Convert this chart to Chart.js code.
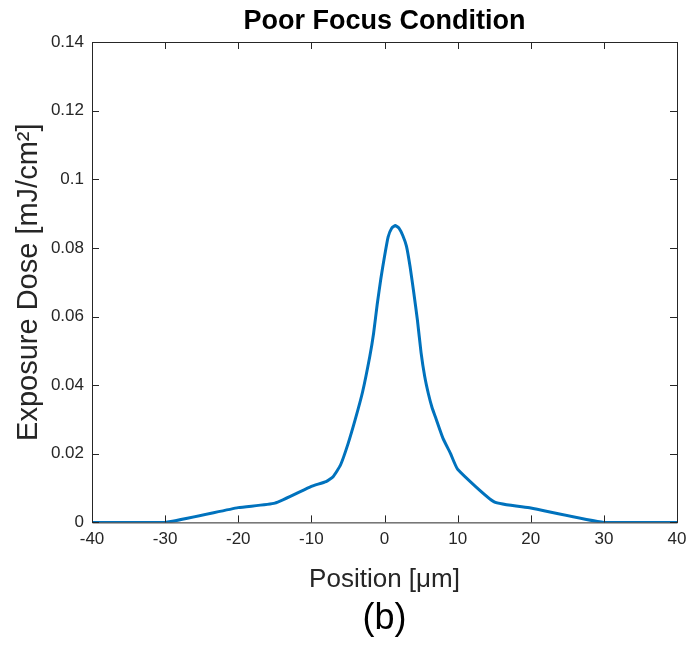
<!DOCTYPE html>
<html>
<head>
<meta charset="utf-8">
<script src="https://cdn.jsdelivr.net/npm/chart.js@4"></script>
<style>
  html, body { margin: 0; padding: 0; background: #fff; }
  #wrap { width: 689px; height: 649px; }
</style>
</head>
<body>
<div id="wrap"><canvas id="doseChart" width="689" height="649"></canvas></div>
<script>
// position in um and exposure dose in mJ/cm^2
const positions = [-40, -30, -20, -15, -10, -8, -7, -6, -5, -4, -3, -2, -1.5, -1, -0.5, 0, 0.5, 1, 1.5, 2, 2.5, 3, 3.5, 4, 4.5, 5, 5.5, 6, 6.5, 7, 8, 9, 10, 15, 20, 30, 40]
const doses = [0, 0, 0.0043, 0.0056, 0.0105, 0.0119, 0.0134, 0.0168, 0.0228, 0.030, 0.038, 0.0485, 0.055, 0.0635, 0.071, 0.0775, 0.0832, 0.0858, 0.0865, 0.0857, 0.0836, 0.0805, 0.0745, 0.067, 0.059, 0.0495, 0.0425, 0.0375, 0.0335, 0.0305, 0.0245, 0.0202, 0.0155, 0.006, 0.0042, 0, 0]
const xTicks = [-40, -30, -20, -10, 0, 10, 20, 30, 40]
const yTicks = [0, 0.02, 0.04, 0.06, 0.08, 0.1, 0.12, 0.14]

const axisColor = '#262626'
const fontFamily = 'Arial, "Liberation Sans", Helvetica, sans-serif'

// MATLAB-style box with inward ticks on all four sides
const boxPlugin = {
  id: 'boxTicks',
  afterDatasetsDraw(chart) {
    const { ctx, chartArea: a, scales } = chart
    const len = 7
    ctx.save()
    ctx.strokeStyle = axisColor
    ctx.lineWidth = 1
    ctx.beginPath()
    ctx.rect(a.left + 0.5, a.top + 0.5, a.right - a.left, a.bottom - a.top)
    xTicks.forEach((v) => {
      const px = Math.round(scales.x.getPixelForValue(v)) + 0.5
      ctx.moveTo(px, a.bottom); ctx.lineTo(px, a.bottom - len)
      ctx.moveTo(px, a.top); ctx.lineTo(px, a.top + len)
    })
    yTicks.forEach((v) => {
      const py = Math.round(scales.y.getPixelForValue(v)) + 0.5
      ctx.moveTo(a.left, py); ctx.lineTo(a.left + len, py)
      ctx.moveTo(a.right, py); ctx.lineTo(a.right - len, py)
    })
    ctx.stroke()
    ctx.restore()
  },
}

const canvas = document.getElementById('doseChart')
new Chart(canvas.getContext('2d'), {
  type: 'line',
  data: {
    datasets: [
      {
        label: 'Exposure Dose',
        data: positions.map((x, i) => ({ x, y: doses[i] })),
        borderColor: '#0072BD',
        borderWidth: 3,
        pointRadius: 0,
        fill: false,
        tension: 0.15,
      },
    ],
  },
  options: {
    responsive: false,
    animation: false,
    layout: { padding: { top: 0, right: 0, left: 0, bottom: 0 } },
    scales: {
      x: {
        type: 'linear',
        min: -40,
        max: 40,
        afterBuildTicks: (s) => { s.ticks = xTicks.map((v) => ({ value: v })) },
        afterFit: (s) => {
          s.height = 75.4
          s.paddingRight = 12
        },
        grid: { display: false, drawTicks: false },
        border: { display: false },
        ticks: { color: axisColor, font: { family: fontFamily, size: 17 }, padding: 7, maxRotation: 0 },
        title: {
          display: true,
          text: 'Position [μm]',
          color: axisColor,
          font: { family: fontFamily, size: 26 },
          padding: { top: 0, bottom: 2 },
        },
      },
      y: {
        min: 0,
        max: 0.14,
        afterBuildTicks: (s) => { s.ticks = yTicks.map((v) => ({ value: v })) },
        afterFit: (s) => { s.width = 92 },
        grid: { display: false, drawTicks: false },
        border: { display: false },
        ticks: {
          color: axisColor,
          font: { family: fontFamily, size: 17 },
          padding: 8,
          callback: (v) => String(parseFloat(Number(v).toFixed(2))),
        },
        title: {
          display: true,
          text: 'Exposure Dose [mJ/cm²]',
          color: axisColor,
          font: { family: fontFamily, size: 29 },
          padding: { top: 12, bottom: 0 },
        },
      },
    },
    plugins: {
      legend: { display: false },
      tooltip: { enabled: false },
      title: {
        display: true,
        fullSize: false,
        text: 'Poor Focus Condition',
        color: '#000',
        font: { family: fontFamily, size: 27, weight: 'bold' },
        padding: { top: 5, bottom: 4.6 },
      },
      subtitle: {
        display: true,
        fullSize: false,
        position: 'bottom',
        text: '(b)',
        color: '#000',
        font: { family: fontFamily, size: 36, weight: 'normal' },
        padding: { top: 0, bottom: 8 },
      },
    },
  },
  plugins: [boxPlugin],
})
</script>
</body>
</html>
